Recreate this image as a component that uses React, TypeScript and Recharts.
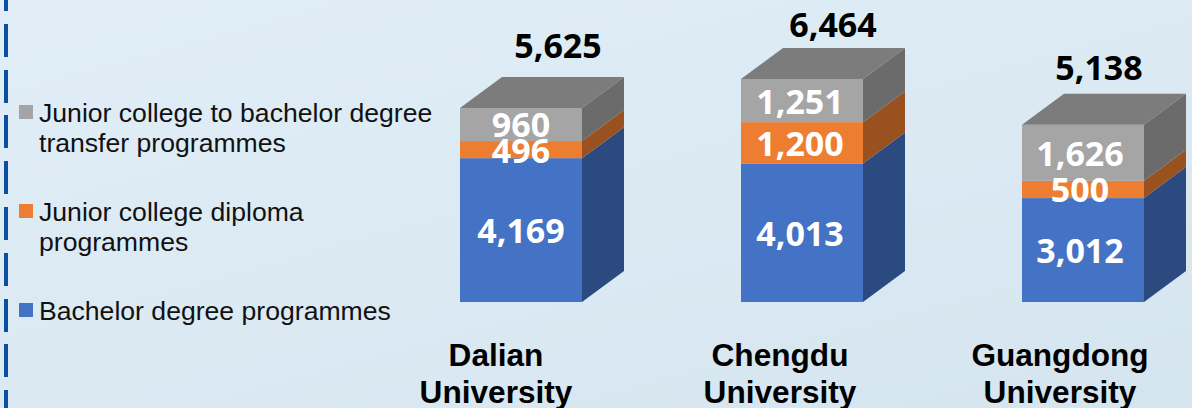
import React from 'react';
import { BarChart, Bar, XAxis, YAxis, Legend, LabelList } from 'recharts';

const universities = ['Dalian University', 'Chengdu University', 'Guangdong University'];
const bachelor = [4169, 4013, 3012];
const diploma = [496, 1200, 500];
const transfer = [960, 1251, 1626];
const totals = [5625, 6464, 5138];

// labels were placed by hand in the original, so each column has its own nudge
const totalNudgeX = [37, 31, 16];
const totalNudgeY = [-50, -42, -45];
const segmentNudgeX = [0, -2, -3];
const tickNudgeX = [-24.5, -21.5, -22.5];

const data = universities.map((name, i) => ({
  name,
  bachelor: bachelor[i],
  diploma: diploma[i],
  transfer: transfer[i],
  total: totals[i],
}));

const DEPTH_X = 42;
const DEPTH_Y = 31;

const fmt = (v: any) => Number(v).toLocaleString('en-US');

const box3d = (side: string, top?: string) => (props: any) => {
  const { x, y, width, height, fill } = props;
  const r = x + width;
  const b = y + height;
  return (
    <g>
      <rect x={x} y={y} width={width} height={height} fill={fill} />
      <polygon
        points={`${r},${y} ${r + DEPTH_X},${y - DEPTH_Y} ${r + DEPTH_X},${b - DEPTH_Y} ${r},${b}`}
        fill={side}
      />
      {top && (
        <polygon
          points={`${x},${y} ${x + DEPTH_X},${y - DEPTH_Y} ${r + DEPTH_X},${y - DEPTH_Y} ${r},${y}`}
          fill={top}
        />
      )}
    </g>
  );
};

const UniversityTick = (props: any) => {
  const { x, payload, index } = props;
  const words = String(payload.value).split(' ');
  const cx = x + tickNudgeX[index];
  return (
    <text
      textAnchor="middle"
      fontFamily="'Liberation Sans'"
      fontWeight="bold"
      fontSize={31.6}
      fill="#000"
    >
      <tspan x={cx} y={366}>{words[0]}</tspan>
      <tspan x={cx} y={403}>{words[1]}</tspan>
    </text>
  );
};

const SegmentLabel = (props: any) => {
  const { x, y, width, height, value, index } = props;
  return (
    <text
      x={x + width / 2 + segmentNudgeX[index]}
      y={y + height / 2}
      dy={13}
      textAnchor="middle"
      fontFamily="'Open Sans'"
      fontWeight="bold"
      fontSize={34}
      fill="#fff"
    >
      {fmt(value)}
    </text>
  );
};

const TotalLabel = (props: any) => {
  const { x, y, width, index } = props;
  return (
    <text
      x={x + width / 2 + totalNudgeX[index]}
      y={y + totalNudgeY[index]}
      textAnchor="middle"
      fontFamily="'Open Sans'"
      fontWeight="bold"
      fontSize={34}
      fill="#000"
    >
      {fmt(totals[index])}
    </text>
  );
};

const legendTops = [98, 197, 296];

const LegendBox = ({ payload }: any) => (
  <div>
    {[...(payload || [])].reverse().map((entry: any, i: number) => (
      <div
        key={entry.value}
        style={{
          position: 'absolute',
          top: legendTops[i],
          left: 39,
          width: 410,
          fontFamily: "'Liberation Sans'",
          fontSize: 26.6,
          lineHeight: '30px',
          color: '#111',
        }}
      >
        <span
          style={{
            position: 'absolute',
            left: -20,
            top: 7,
            width: 14,
            height: 14,
            background: entry.color,
          }}
        />
        {entry.value}
      </div>
    ))}
  </div>
);

export default function App() {
  return (
    <div
      style={{
        position: 'absolute',
        left: 0,
        top: 0,
        width: 1192,
        height: 408,
        overflow: 'hidden',
        background: 'linear-gradient(165deg, #e1eef7 0%, #d5e5ef 100%)',
      }}
    >
      <div
        style={{
          position: 'absolute',
          left: 4,
          top: -22,
          width: 4,
          height: 440,
          background: 'repeating-linear-gradient(to bottom, #0b4fa2 0, #0b4fa2 33px, transparent 33px, transparent 45.8px)',
        }}
      />
      <BarChart
        width={1240}
        height={408}
        data={data}
        barSize={122}
        margin={{ top: 60.5, right: 17, left: 380, bottom: 0 }}
        style={{ position: 'absolute', left: 0, top: 0 }}
      >
        <XAxis
          dataKey="name"
          height={106}
          axisLine={false}
          tickLine={false}
          interval={0}
          tick={<UniversityTick />}
        />
        <YAxis hide domain={[0, 7000]} />
        <Legend
          layout="vertical"
          align="center"
          verticalAlign="middle"
          wrapperStyle={{ left: 0, top: 0, width: 450, height: 0 }}
          content={<LegendBox />}
        />
        <Bar
          dataKey="bachelor"
          name="Bachelor degree programmes"
          stackId="a"
          fill="#4472c4"
          shape={box3d('#2b4a80')}
          isAnimationActive={false}
        >
          <LabelList dataKey="bachelor" content={<SegmentLabel />} />
        </Bar>
        <Bar
          dataKey="diploma"
          name="Junior college diploma programmes"
          stackId="a"
          fill="#ed7d31"
          shape={box3d('#9a5120')}
          isAnimationActive={false}
        >
          <LabelList dataKey="diploma" content={<SegmentLabel />} />
        </Bar>
        <Bar
          dataKey="transfer"
          name="Junior college to bachelor degree transfer programmes"
          stackId="a"
          fill="#a5a5a5"
          shape={box3d('#6b6b6b', '#7c7c7c')}
          isAnimationActive={false}
        >
          <LabelList dataKey="transfer" content={<SegmentLabel />} />
          <LabelList dataKey="total" content={<TotalLabel />} />
        </Bar>
      </BarChart>
    </div>
  );
}
